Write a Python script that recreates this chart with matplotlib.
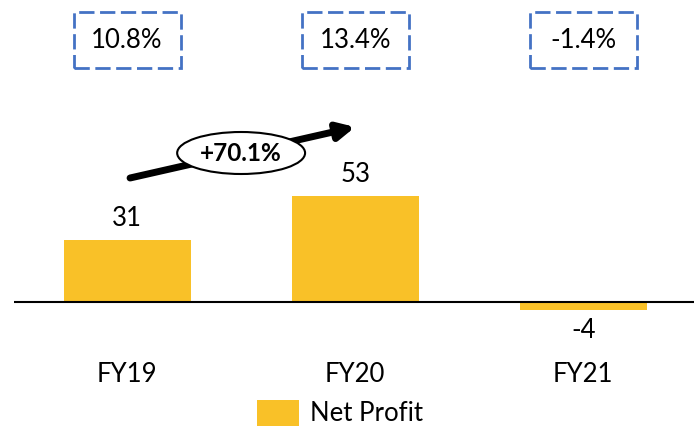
import matplotlib
matplotlib.use('Agg')
import matplotlib.pyplot as plt
from matplotlib.patches import Rectangle, Ellipse

years = ['FY19', 'FY20', 'FY21']
net_profit = [31, 53, -4]
margins = ['10.8%', '13.4%', '-1.4%']
growth_label = '+70.1%'

bar_color = '#F9C128'
box_color = '#4472C4'

plt.rcParams['font.family'] = ['Lato', 'DejaVu Sans']

fig = plt.figure(figsize=(6.94, 4.28), dpi=100)
ax = fig.add_axes([14 / 694, 0, 680 / 694, 1])
ax.set_xlim(-0.496, 2.486)
ax.set_ylim(-63, 151)
ax.axis('off')

x = list(range(len(years)))
bars = ax.bar(x, net_profit, width=0.557, color=bar_color, label='Net Profit', zorder=2)
ax.axhline(0, color='black', lw=1.5, zorder=3)

for xi, v in zip(x, net_profit):
    off = 11 if v >= 0 else -10
    ax.text(xi, v + off, str(v), ha='center', va='center', fontsize=18.5)
    ax.text(xi, -36.5, years[xi], ha='center', va='center', fontsize=18.5)

# margin boxes on top
for xi, m in zip(x, margins):
    ax.add_patch(Rectangle((xi - 0.235, 117), 0.47, 28, fill=False, ec=box_color,
                           lw=2, ls=(0, (5.5, 2)), clip_on=False))
    ax.text(xi, 131, m, ha='center', va='center', fontsize=18.5)

# growth arrow FY19 -> FY20
ax.annotate('', xy=(1.0, 87.5), xytext=(0.013, 62),
            arrowprops=dict(arrowstyle='-|>,head_length=1.0,head_width=0.5',
                            lw=5, color='black', shrinkA=0, shrinkB=0))
ax.add_patch(Ellipse((0.5, 74.5), 0.561, 21, fc='white', ec='black', lw=1.5, zorder=4))
ax.text(0.5, 74.5, growth_label, ha='center', va='center', fontsize=17.5,
        fontweight='bold', zorder=5)

fig.legend(handles=[bars], loc='center', bbox_to_anchor=(340 / 694, 15 / 428),
           frameon=False, fontsize=18.5, handlelength=1.65, handleheight=1.2,
           handletextpad=0.45, borderpad=0)

fig.savefig('out.png', dpi=100)
